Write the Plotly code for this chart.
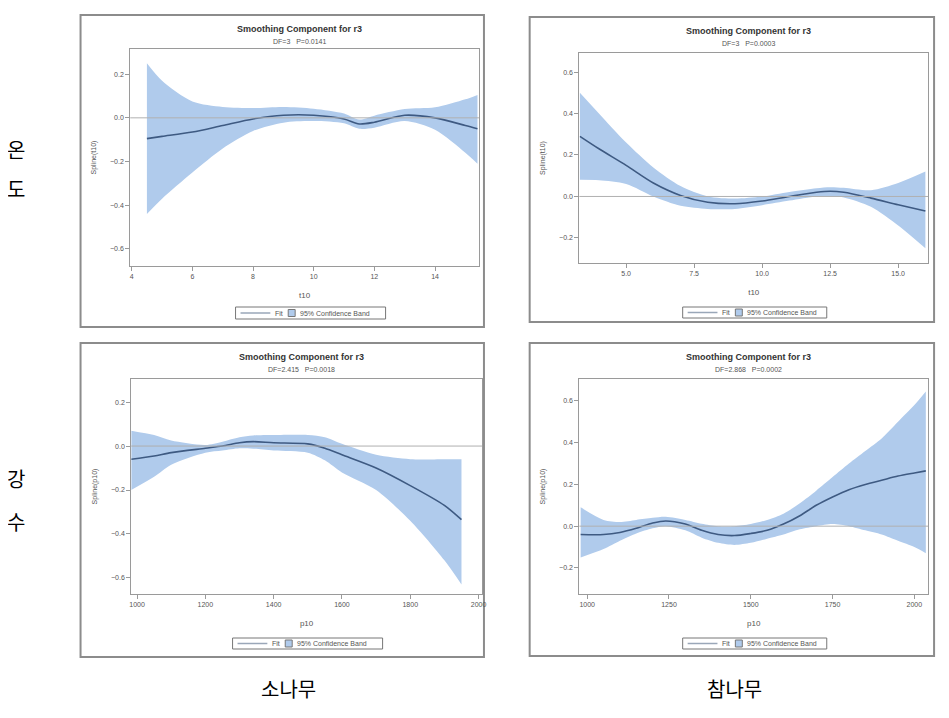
import plotly.graph_objects as go

W, H = 949, 718
OFF = 8  # the page body adds an 8px margin, so lay out in window pixels and shift back

# ---- data ----
# top-left: 소나무 / temperature
t1_x = [4.5, 5, 6, 7, 8, 9, 10, 11, 11.5, 12, 13, 14, 15, 15.4]
t1_fit = [-0.095, -0.085, -0.065, -0.035, -0.005, 0.012, 0.012, -0.005, -0.028, -0.02, 0.012, 0.0, -0.035, -0.05]
t1_upper = [0.25, 0.17, 0.075, 0.05, 0.045, 0.05, 0.042, 0.02, -0.008, 0.01, 0.04, 0.048, 0.085, 0.105]
t1_lower = [-0.44, -0.37, -0.25, -0.14, -0.06, -0.022, -0.015, -0.025, -0.05, -0.045, -0.015, -0.055, -0.16, -0.21]

# top-right: 참나무 / temperature
t2_x = [3.3, 4, 5, 6, 7, 8, 9, 10, 11, 12, 12.5, 13, 14, 15, 16]
t2_fit = [0.29, 0.23, 0.15, 0.065, 0.005, -0.028, -0.035, -0.022, 0.0, 0.02, 0.025, 0.02, -0.008, -0.04, -0.07]
t2_upper = [0.5, 0.4, 0.26, 0.14, 0.05, 0.0, -0.01, 0.0, 0.022, 0.04, 0.045, 0.042, 0.03, 0.065, 0.12]
t2_lower = [0.08, 0.078, 0.06, 0.0, -0.045, -0.06, -0.06, -0.042, -0.02, 0.0, 0.002, -0.005, -0.05, -0.14, -0.25]

# bottom-left: 소나무 / precipitation
p1_x = [983, 1050, 1100, 1200, 1250, 1300, 1340, 1400, 1500, 1550, 1600, 1700, 1800, 1900, 1950]
p1_fit = [-0.06, -0.045, -0.03, -0.01, 0.0, 0.015, 0.02, 0.015, 0.01, -0.01, -0.04, -0.1, -0.18, -0.27, -0.335]
p1_upper = [0.07, 0.05, 0.025, 0.005, 0.02, 0.04, 0.048, 0.05, 0.05, 0.04, 0.01, -0.04, -0.06, -0.06, -0.06]
p1_lower = [-0.2, -0.14, -0.085, -0.03, -0.02, -0.01, -0.012, -0.02, -0.03, -0.065, -0.12, -0.2, -0.34, -0.52, -0.63]

# bottom-right: 참나무 / precipitation
p2_x = [980, 1050, 1100, 1150, 1200, 1240, 1300, 1350, 1400, 1450, 1500, 1550, 1600, 1650, 1700, 1750, 1800, 1850, 1900, 1950, 2000, 2035]
p2_fit = [-0.04, -0.04, -0.03, -0.01, 0.015, 0.025, 0.01, -0.02, -0.04, -0.045, -0.035, -0.02, 0.01, 0.05, 0.1, 0.14, 0.175, 0.2, 0.22, 0.24, 0.255, 0.265]
p2_upper = [0.09, 0.03, 0.02, 0.03, 0.04, 0.045, 0.03, 0.012, 0.0, 0.0, 0.01, 0.03, 0.06, 0.11, 0.17, 0.235, 0.3, 0.36, 0.42, 0.5, 0.58, 0.645]
p2_lower = [-0.15, -0.11, -0.07, -0.035, -0.01, 0.0, -0.02, -0.055, -0.08, -0.09, -0.08, -0.06, -0.04, -0.015, 0.0, 0.01, 0.0, -0.02, -0.04, -0.07, -0.1, -0.13]

subtitles = ["DF=3   P=0.0141", "DF=3   P=0.0003", "DF=2.415   P=0.0018", "DF=2.868   P=0.0002"]
x_titles = ["t10", "t10", "p10", "p10"]
y_titles = ["Spline(t10)", "Spline(t10)", "Spline(p10)", "Spline(p10)"]
x_ticks = [[4, 6, 8, 10, 12, 14], [5, 7.5, 10, 12.5, 15],
           [1000, 1200, 1400, 1600, 1800, 2000], [1000, 1250, 1500, 1750, 2000]]
y_ticks = [[-0.6, -0.4, -0.2, 0.0, 0.2], [-0.2, 0.0, 0.2, 0.4, 0.6],
           [-0.6, -0.4, -0.2, 0.0, 0.2], [-0.2, 0.0, 0.2, 0.4, 0.6]]
x_fmt = ["d", ".1f", "d", "d"]

panels = [
    (t1_x, t1_fit, t1_upper, t1_lower),
    (t2_x, t2_fit, t2_upper, t2_lower),
    (p1_x, p1_fit, p1_upper, p1_lower),
    (p2_x, p2_fit, p2_upper, p2_lower),
]

# layout in window pixels: plot area (l, r, top, bottom), axis ranges, outer frame
plot_px = [(129, 480, 49, 266), (581, 932, 53, 263), (130, 483, 379, 594), (581, 932, 379, 594)]
x_ranges = [[3.95, 15.45], [3.28, 16.1], [983, 2010], [976, 2042]]
y_ranges = [[-0.678, 0.315], [-0.321, 0.692], [-0.673, 0.305], [-0.325, 0.705]]
frames_px = [(79, 485, 15, 327), (531, 938, 17, 322), (79, 485, 343, 657), (531, 938, 343, 656)]
legend_px = [(235, 386, 307, 319), (685, 830, 307, 318), (232, 383, 638, 649), (685, 830, 638, 649)]

BAND = "#B0CBEC"
FIT = "#3E5A82"
FRAME = "#8c8c8c"
AXIS = "#9a9a9a"
TXT = "#555555"
FONT = "Liberation Sans, Arial, sans-serif"

FW, FH = W - OFF, H - OFF


def px(x):
    return (x - OFF) / FW


def py(y):
    return 1 - (y - OFF) / FH


def note(text, x, y, size=7, color=TXT, xanchor="center", family=FONT):
    return dict(text=text, x=px(x), y=py(y), xref="paper", yref="paper", xanchor=xanchor,
                yanchor="middle", showarrow=False, font=dict(size=size, color=color, family=family))


fig = go.Figure()
shapes = []
annotations = []

for i, (xs, fit, up, lo) in enumerate(panels):
    n = "" if i == 0 else str(i + 1)
    xa, ya = "x" + n, "y" + n

    # confidence band: upper edge, then lower edge filled up to it
    fig.add_trace(go.Scatter(
        x=xs, y=up, mode="lines", line=dict(width=0, shape="spline", smoothing=0.8),
        hoverinfo="skip", showlegend=False, xaxis=xa, yaxis=ya))
    fig.add_trace(go.Scatter(
        x=xs, y=lo, mode="lines", fill="tonexty", fillcolor=BAND,
        line=dict(width=0, shape="spline", smoothing=0.8),
        hoverinfo="skip", showlegend=False, xaxis=xa, yaxis=ya))
    fig.add_trace(go.Scatter(
        x=xs, y=fit, mode="lines", line=dict(color=FIT, width=1.6, shape="spline", smoothing=0.8),
        showlegend=False, xaxis=xa, yaxis=ya))

    l, r, t, b = plot_px[i]
    ax = dict(domain=[px(l), px(r)], range=x_ranges[i], tickvals=x_ticks[i], tickformat=x_fmt[i],
              showgrid=False, zeroline=False, showline=True, mirror=True, linecolor=AXIS, linewidth=1,
              ticks="outside", ticklen=4, tickcolor=AXIS, tickfont=dict(size=7, color=TXT, family=FONT),
              title=dict(text=x_titles[i], font=dict(size=8, color=TXT, family=FONT), standoff=12),
              anchor=ya)
    ay = dict(domain=[py(b), py(t)], range=y_ranges[i], tickvals=y_ticks[i], tickformat=".1f",
              showgrid=False, zeroline=False, showline=True, mirror=True, linecolor=AXIS, linewidth=1,
              ticks="outside", ticklen=4, tickcolor=AXIS, tickfont=dict(size=7, color=TXT, family=FONT),
              title=dict(text=y_titles[i], font=dict(size=7, color=TXT, family=FONT), standoff=12),
              anchor=xa)
    fig.update_layout(**{"xaxis" + n: ax, "yaxis" + n: ay})

    # zero reference line
    shapes.append(dict(type="line", xref=xa + " domain", yref=ya, x0=0, x1=1, y0=0, y1=0,
                       line=dict(color="#b0b0b0", width=1), layer="above"))

    # outer frame of each SAS graphic
    fl, fr, ft, fb = frames_px[i]
    shapes.append(dict(type="rect", xref="paper", yref="paper", x0=px(fl), x1=px(fr), y0=py(fb), y1=py(ft),
                       line=dict(color=FRAME, width=2), layer="below"))

    # titles
    cx = (l + r) / 2 - 5
    annotations.append(note("<b>Smoothing Component for r3</b>", cx, ft + 14, size=9, color="#333333"))
    annotations.append(note(subtitles[i], cx, ft + 26))

    # legend box
    ll, lr, lt, lb = legend_px[i]
    shapes.append(dict(type="rect", xref="paper", yref="paper", x0=px(ll), x1=px(lr), y0=py(lb), y1=py(lt),
                       line=dict(color="#777777", width=1)))
    ym = (lt + lb) / 2
    shapes.append(dict(type="line", xref="paper", yref="paper", x0=px(ll + 5), x1=px(ll + 35),
                       y0=py(ym), y1=py(ym), line=dict(color="#9aa7b8", width=1.5)))
    annotations.append(note("Fit", ll + 38, ym, xanchor="left"))
    shapes.append(dict(type="rect", xref="paper", yref="paper", x0=px(ll + 53), x1=px(ll + 60),
                       y0=py(ym + 3.5), y1=py(ym - 3.5), fillcolor=BAND, line=dict(color="#777777", width=1)))
    annotations.append(note("95% Confidence Band", ll + 63, ym, xanchor="left"))

# Korean row / column labels
for text, x, y in [("온", 14, 150), ("도", 14, 188), ("강", 14, 478), ("수", 14, 521),
                   ("소나무", 288, 688), ("참나무", 737, 688)]:
    annotations.append(note(text, x, y, size=20, color="black", family="Noto Sans CJK KR"))

fig.update_layout(width=FW, height=FH, margin=dict(l=0, r=0, t=0, b=0),
                  paper_bgcolor="white", plot_bgcolor="white",
                  shapes=shapes, annotations=annotations, showlegend=False)

fig.write_html("out.html")
